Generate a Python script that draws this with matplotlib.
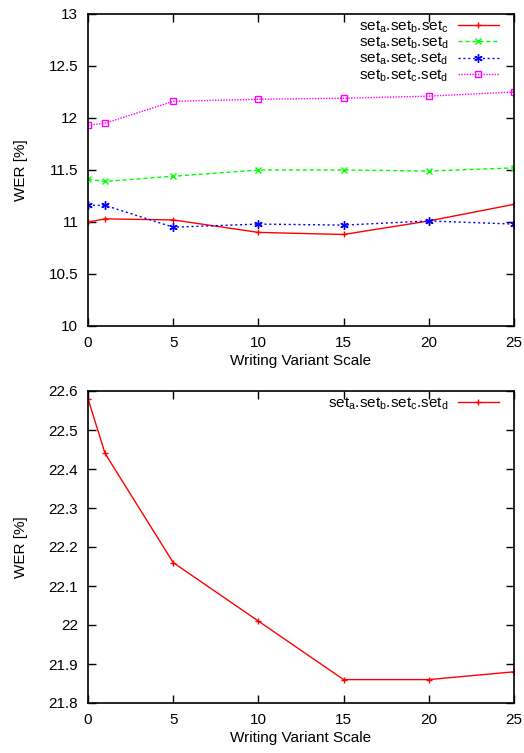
import matplotlib
matplotlib.use("Agg")
import matplotlib.pyplot as plt

plt.rcParams['font.family'] = ['Liberation Sans', 'DejaVu Sans']
plt.rcParams['mathtext.fontset'] = 'custom'
plt.rcParams['mathtext.rm'] = 'Liberation Sans'
plt.rcParams['mathtext.it'] = 'Liberation Sans'
plt.rcParams['font.size'] = 11

x = [0, 1, 5, 10, 15, 20, 25]

# top panel
abc = [11.00, 11.03, 11.02, 10.90, 10.88, 11.01, 11.17]
abd = [11.41, 11.39, 11.44, 11.50, 11.50, 11.49, 11.52]
acd = [11.16, 11.16, 10.95, 10.98, 10.97, 11.01, 10.98]
bcd = [11.93, 11.95, 12.16, 12.18, 12.19, 12.21, 12.25]

# bottom panel
abcd = [22.58, 22.44, 22.16, 22.01, 21.86, 21.86, 21.88]

top_labels = [r'set$_\mathrm{a}$.set$_\mathrm{b}$.set$_\mathrm{c}$',
              r'set$_\mathrm{a}$.set$_\mathrm{b}$.set$_\mathrm{d}$',
              r'set$_\mathrm{a}$.set$_\mathrm{c}$.set$_\mathrm{d}$',
              r'set$_\mathrm{b}$.set$_\mathrm{c}$.set$_\mathrm{d}$']
bottom_label = r'set$_\mathrm{a}$.set$_\mathrm{b}$.set$_\mathrm{c}$.set$_\mathrm{d}$'

W, H = 524, 753
fig = plt.figure(figsize=(W / 100, H / 100), dpi=100)

def frac(l, t, r, b):
    return [l / W, 1 - b / H, (r - l) / W, (b - t) / H]

ax1 = fig.add_axes(frac(88, 14, 514, 326))
ax2 = fig.add_axes(frac(88, 391, 514, 703))

ax1.plot(x, abc, color='#ff0000', ls='-', lw=1, marker='+', ms=5, mew=1, label=top_labels[0])
ax1.plot(x, abd, color='#00ff00', ls=(0, (3, 2)), lw=1, marker='x', ms=5, mew=1, label=top_labels[1])
ax1.plot(x, acd, color='#0000ff', ls=(0, (1.5, 2)), lw=1, marker=(6, 2, 0), ms=6, mew=1, label=top_labels[2])
ax1.plot(x, bcd, color='#ff00ff', ls=(0, (1, 1)), lw=1, marker='s', ms=5, mew=1, mfc='none', label=top_labels[3])

ax2.plot(x, abcd, color='#ff0000', ls='-', lw=1, marker='+', ms=5, mew=1, label=bottom_label)

ax1.set_ylim(10, 13)
ax1.set_yticks([10, 10.5, 11, 11.5, 12, 12.5, 13])
ax1.set_yticklabels(['10', '10.5', '11', '11.5', '12', '12.5', '13'])
ax2.set_ylim(21.8, 22.6)
ticks2 = [21.8, 21.9, 22.0, 22.1, 22.2, 22.3, 22.4, 22.5, 22.6]
ax2.set_yticks(ticks2)
ax2.set_yticklabels(['21.8', '21.9', '22', '22.1', '22.2', '22.3', '22.4', '22.5', '22.6'])

for ax in (ax1, ax2):
    ax.set_xlim(0, 25)
    ax.set_xticks([0, 5, 10, 15, 20, 25])
    ax.tick_params(direction='in', top=True, right=True, length=6, width=1,
                   labelsize=11)
    ax.tick_params(axis='y', pad=7)
    ax.tick_params(axis='x', pad=7)
    for s in ax.spines.values():
        s.set_linewidth(1.2)
    ax.set_xlabel('Writing Variant Scale', fontsize=11, labelpad=3)
    ax.set_ylabel('WER [%]', fontsize=11, labelpad=15)
    leg = ax.legend(loc='upper right', frameon=False, markerfirst=False,
                    handlelength=2.7, handletextpad=0.6, labelspacing=0.0,
                    borderaxespad=0.0, fontsize=11, bbox_to_anchor=(0.979, 1.006))

fig.savefig('out.png', dpi=100)
